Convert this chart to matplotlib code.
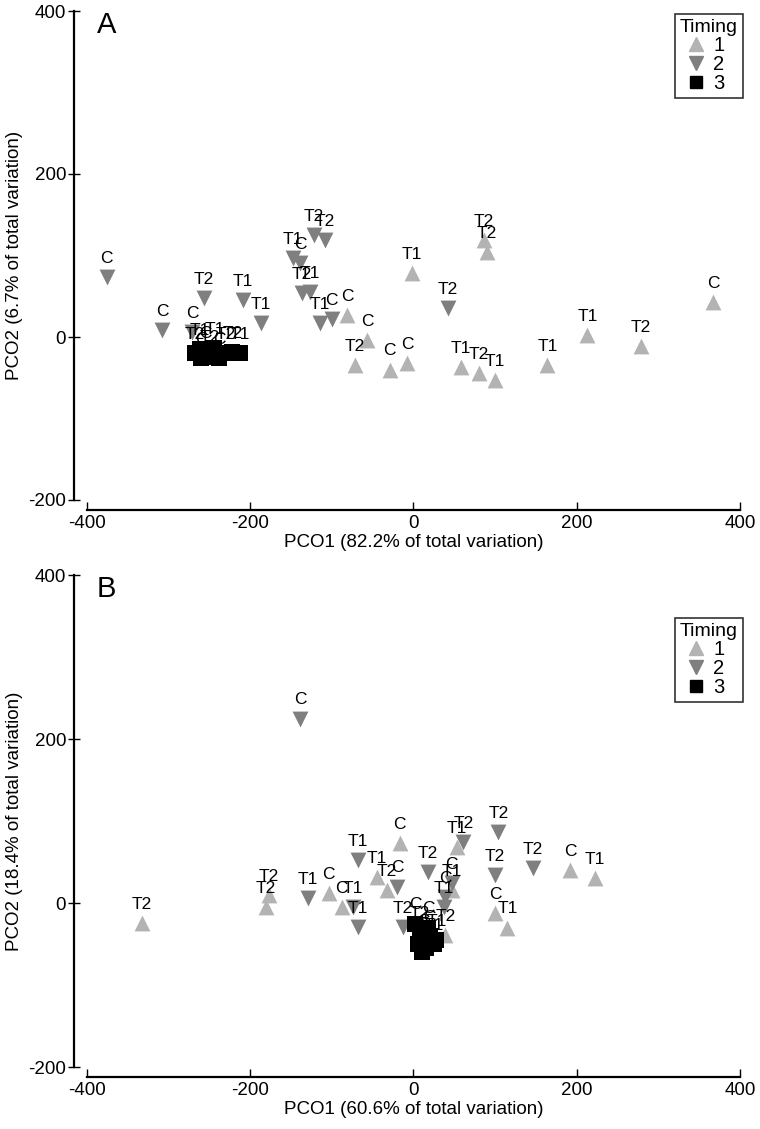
import matplotlib
matplotlib.use("Agg")
import matplotlib.pyplot as plt
from matplotlib.lines import Line2D

plt.rcParams['font.family'] = ['Liberation Sans', 'DejaVu Sans']
plt.rcParams['axes.unicode_minus'] = False

# panel A (PCO1 82.2%, PCO2 6.7%)
a1_x = [-81, -57, -72, -29, -8, -2, 86, 90, 58, 80, 100, 164, 213, 279, 367]
a1_y = [27, -4, -34, -40, -32, 79, 119, 104, -37, -44, -53, -34, 2, -11, 43]
a1_lab = ['C', 'C', 'T2', 'C', 'C', 'T1', 'T2', 'T2', 'T1', 'T2', 'T1', 'T1', 'T1', 'T2', 'C']

a2_x = [-376, -308, -271, -257, -209, -187, -148, -139, -122, -109, -137, -127, -115, -100, 42]
a2_y = [74, 9, 6, 48, 45, 17, 97, 91, 125, 119, 54, 55, 17, 22, 36]
a2_lab = ['C', 'C', 'C', 'T2', 'T1', 'T1', 'T1', 'C', 'T2', 'T2', 'T2', 'T1', 'T1', 'C', 'T2']

a3_x = [-268, -262, -255, -250, -244, -238, -230, -222, -213, -260]
a3_y = [-20, -15, -18, -24, -14, -26, -20, -18, -20, -26]
a3_lab = ['T2', 'T1', 'C', 'T2', 'T1', 'C', 'T2', 'T2', 'T1', 'C']

# panel B (PCO1 60.6%, PCO2 18.4%)
b1_x = [-333, -177, -181, -104, -88, -17, -45, -33, 100, 115, 192, 222, 53, 39, 47]
b1_y = [-24, 10, -5, 12, -5, 73, 32, 16, -12, -30, 40, 30, 68, -39, 16]
b1_lab = ['T2', 'T2', 'T2', 'C', 'C', 'C', 'T1', 'T2', 'C', 'T1', 'C', 'T1', 'T1', 'T2', 'T1']

b2_x = [-139, -68, -74, -68, -20, 18, 61, 104, 100, 146, 47, 39, 37, -13, -129]
b2_y = [225, 52, -5, -29, 20, 38, 74, 87, 34, 43, 24, 7, -5, -29, 6]
b2_lab = ['C', 'T1', 'T1', 'T1', 'C', 'T2', 'T2', 'T2', 'T2', 'T2', 'C', 'C', 'T1', 'T2', 'T1']

b3_x = [2, 8, 12, 5, 15, 20, 25, 10, 18, 28]
b3_y = [-25, -35, -45, -50, -55, -40, -50, -60, -30, -45]
b3_lab = ['C', 'T2', 'C', 'T1', 'T2', 'C', 'T1', 'T2', 'C', 'T1']

light = '#b3b3b3'
dark = '#7f7f7f'

W, H = 760, 1129
fig = plt.figure(figsize=(W / 100, H / 100), dpi=100)


def panel(top, bottom, letter, xlab, ylab, s1, s2, s3, leg_top):
    ax = fig.add_axes([87 / W, 1 - bottom / H, 653 / W, (bottom - top) / H])
    for (xs, ys, labs), mk, col, sz in [(s1, '^', light, 130), (s2, 'v', dark, 130), (s3, 's', 'black', 120)]:
        ax.scatter(xs, ys, marker=mk, s=sz, color=col, linewidths=0, zorder=2)
        for x, y, t in zip(xs, ys, labs):
            ax.annotate(t, (x, y), xytext=(0, 8), textcoords='offset points',
                        ha='center', va='bottom', fontsize=12.5, zorder=3)
    ax.set_xlim(-400, 400)
    ax.set_ylim(-200, 400)
    ax.set_xticks([-400, -200, 0, 200, 400])
    ax.set_yticks([-200, 0, 200, 400])
    for s in ['top', 'right']:
        ax.spines[s].set_visible(False)
    ax.spines['left'].set_position(('outward', 9.5))
    ax.spines['bottom'].set_position(('outward', 7.5))
    ax.spines['left'].set_linewidth(1.6)
    ax.spines['bottom'].set_linewidth(1.6)
    ax.tick_params(axis='y', direction='inout', length=9, width=1, labelsize=13.5, pad=1)
    ax.tick_params(axis='x', direction='in', length=6, width=1, labelsize=13.5, pad=3)
    ax.set_xlabel(xlab, fontsize=13.5, labelpad=2)
    ax.set_ylabel(ylab, fontsize=13.5, labelpad=4)
    ax.text(0.015, 1.0, letter, transform=ax.transAxes, fontsize=21, va='top', ha='left')
    handles = [Line2D([], [], marker='^', ls='', color=light, markersize=10),
               Line2D([], [], marker='v', ls='', color=dark, markersize=10),
               Line2D([], [], marker='s', ls='', color='black', markersize=8.5)]
    leg = ax.legend(handles, ['1', '2', '3'], title='Timing', loc='upper right',
                    bbox_to_anchor=(743 / W, 1 - leg_top / H), bbox_transform=fig.transFigure,
                    fontsize=14.5, title_fontsize=14, frameon=True, fancybox=False,
                    handlelength=1.6, handletextpad=0.05, labelspacing=0.0,
                    borderpad=0.25, borderaxespad=0)
    leg.get_frame().set_edgecolor('black')
    leg.get_frame().set_linewidth(1.2)
    leg._legend_box.align = 'left'
    return ax


panel(11, 500, 'A', 'PCO1 (82.2% of total variation)', 'PCO2 (6.7% of total variation)',
      (a1_x, a1_y, a1_lab), (a2_x, a2_y, a2_lab), (a3_x, a3_y, a3_lab), 14)
panel(575, 1067, 'B', 'PCO1 (60.6% of total variation)', 'PCO2 (18.4% of total variation)',
      (b1_x, b1_y, b1_lab), (b2_x, b2_y, b2_lab), (b3_x, b3_y, b3_lab), 618)

fig.savefig('out.png', dpi=100)
